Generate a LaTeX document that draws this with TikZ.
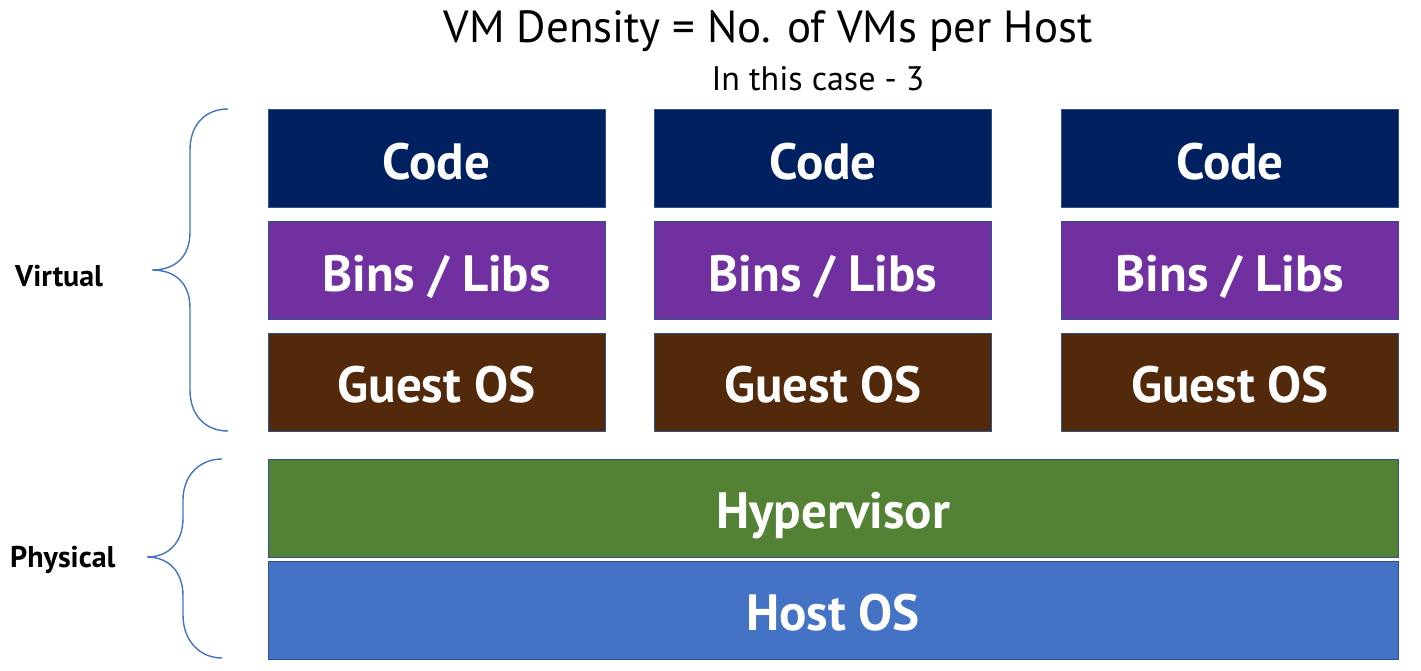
\documentclass[tikz,border=0pt]{standalone}
\usepackage{fontspec}
\setmainfont{PT Sans}
\definecolor{codec}{HTML}{002060}
\definecolor{binsc}{HTML}{7030A0}
\definecolor{guestc}{HTML}{52290B}
\definecolor{hypc}{HTML}{548235}
\definecolor{hostc}{HTML}{4472C4}
\definecolor{outl}{HTML}{2F528F}
\definecolor{bracec}{HTML}{4472C4}
\begin{document}
\begin{tikzpicture}[x=1pt,y=-1pt,
  layer/.style={draw=outl,line width=1pt,text=white,inner sep=0pt,
    text height=41pt,text depth=0pt,
    font=\fontsize{51}{55}\selectfont\bfseries},
  vmbox/.style={layer,minimum width=337pt,minimum height=98pt},
  wide/.style={layer,minimum width=1130pt,minimum height=98pt},
  brace/.style={draw=bracec,line width=1.4pt},
  side/.style={font=\fontsize{30}{33}\selectfont\bfseries,anchor=west,
    inner sep=0pt,text height=21pt,text depth=0pt}]
\useasboundingbox (0,0) rectangle (1421,671);
\node[inner sep=0pt,text height=31.5pt,text depth=0pt,font=\fontsize{45}{50}\selectfont] (title) at (768,27) {VM Density = No. of VMs per Host};
\node[inner sep=0pt,text height=24pt,text depth=0pt,font=\fontsize{34}{38}\selectfont] (sub) at (818,79) {In this case - 3};
\foreach \i/\cx in {1/436.5,2/823,3/1230}{
  \node[vmbox,fill=codec] (code\i) at (\cx,159) {Code};
  \node[vmbox,fill=binsc] (bins\i) at (\cx,270.5) {Bins / Libs};
  \node[vmbox,fill=guestc] (guest\i) at (\cx,382) {Guest OS};
}
\node[wide,fill=hypc] (hyp) at (833,508) {Hypervisor};
\node[wide,fill=hostc] (host) at (833,610) {Host OS};
\node[side] (virt) at (15,276) {Virtual};
\node[side] (phys) at (10,557) {Physical};
\draw[brace] (228,109) .. controls (205,109) and (190,125) .. (190,150) -- (190,232)
  .. controls (190,256) and (176,270) .. (152,270)
  .. controls (176,270) and (190,284) .. (190,308) -- (190,390)
  .. controls (190,415) and (205,431) .. (228,431);
\draw[brace] (222,459) .. controls (200,459) and (183,475) .. (183,500) -- (183,518)
  .. controls (183,542) and (169,557) .. (147,557)
  .. controls (169,557) and (183,572) .. (183,596) -- (183,615)
  .. controls (183,641) and (200,658) .. (222,658);
\end{tikzpicture}
\end{document}
